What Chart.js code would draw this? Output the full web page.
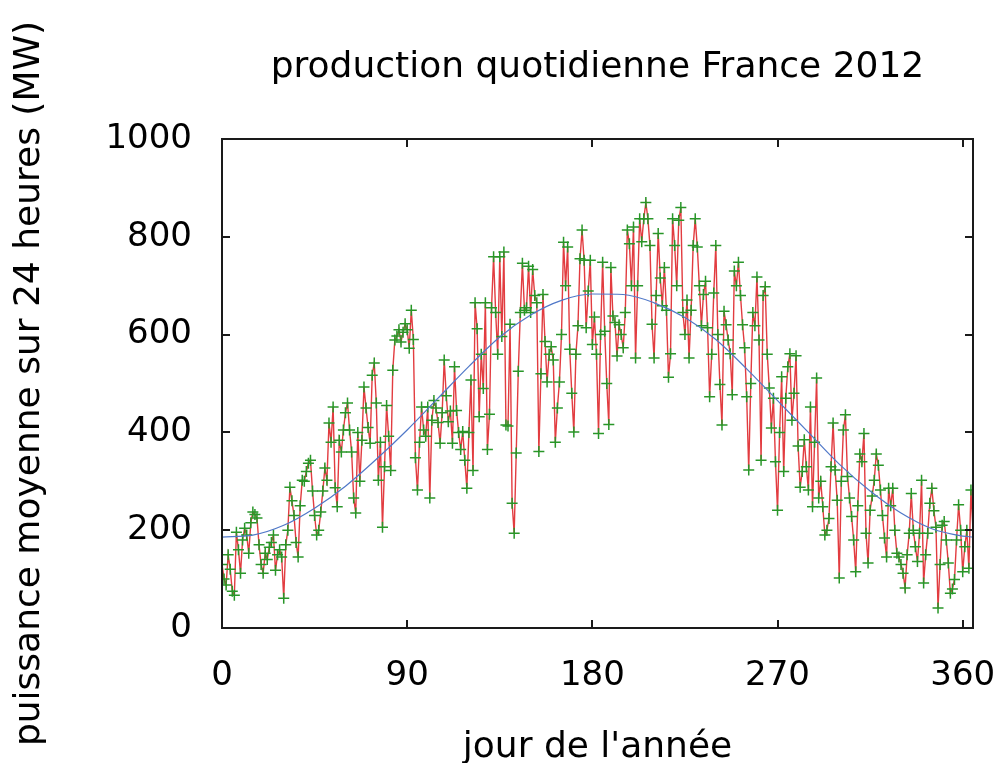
<!DOCTYPE html>
<html>
<head>
<meta charset="utf-8">
<title>production quotidienne France 2012</title>
<script src="https://cdn.jsdelivr.net/npm/chart.js@4.4.1/dist/chart.umd.min.js"></script>
<style>
  html, body { margin: 0; padding: 0; background: #fff; }
  canvas { display: block; }
</style>
</head>
<body>
<canvas id="grfc_production" width="999" height="763"></canvas>
<script>
// production quotidienne (MW), jour 0 a 365
var production = [
  130, 100, 88, 150, 120, 75, 67, 196, 160, 112,
  180, 204, 190, 153, 215, 237, 232, 225, 170, 130,
  112, 153, 140, 165, 175, 190, 118, 150, 160, 145,
  61, 170, 200, 288, 260, 230, 175, 145, 250, 302,
  300, 320, 337, 343, 280, 230, 190, 200, 237, 280,
  327, 302, 419, 380, 452, 287, 248, 384, 360, 405,
  440, 460, 405, 360, 266, 235, 400, 300, 384, 493,
  450, 410, 378, 517, 542, 460, 302, 380, 206, 330,
  455, 392, 322, 527, 589, 597, 610, 585, 605, 622,
  610, 572, 650, 590, 348, 282, 380, 452, 405, 392,
  452, 266, 425, 465, 450, 420, 378, 440, 548, 475,
  422, 444, 378, 534, 445, 400, 365, 402, 343, 286,
  400, 507, 322, 665, 612, 432, 560, 490, 665, 365,
  437, 655, 759, 645, 560, 759, 596, 769, 415, 413,
  621, 255, 194, 358, 525, 645, 746, 650, 655, 740,
  645, 733, 680, 665, 361, 520, 682, 586, 503, 560,
  575, 548, 380, 450, 503, 600, 789, 700, 779, 570,
  480, 401, 560, 618, 755, 814, 752, 614, 689, 752,
  580, 636, 560, 398, 600, 748, 607, 500, 416, 737,
  638, 625, 556, 620, 600, 573, 645, 814, 786, 700,
  820, 552, 700, 837, 790, 837, 870, 837, 782, 621,
  552, 680, 807, 716, 659, 737, 650, 513, 561, 837,
  782, 700, 834, 860, 645, 600, 671, 552, 650, 782,
  837, 779, 700, 618, 682, 709, 614, 473, 560, 685,
  782, 600, 498, 415, 648, 620, 589, 561, 477, 730,
  700, 748, 680, 620, 573, 473, 323, 500, 645, 618,
  718, 589, 343, 680, 698, 560, 491, 409, 470, 340,
  241, 400, 514, 320, 470, 534, 561, 425, 480, 557,
  372, 288, 320, 385, 330, 282, 452, 248, 380, 511,
  266, 300, 248, 190, 200, 224, 330, 419, 323, 261,
  102, 300, 405, 436, 310, 266, 228, 180, 115, 250,
  356, 340, 398, 194, 133, 241, 270, 302, 356, 333,
  282, 230, 184, 145, 286, 250, 286, 200, 153, 145,
  130, 112, 82, 150, 194, 275, 200, 166, 136, 194,
  302, 92, 150, 194, 255, 286, 240, 206, 41, 130,
  210, 218, 180, 133, 71, 80, 99, 180, 252, 200,
  115, 166, 200, 122, 282, 200
];

// courbe ajustee
var ajustJours = [0, 15, 30, 45, 60, 75, 90, 105, 120, 135, 150, 165, 180,
  195, 210, 225, 240, 255, 270, 285, 300, 315, 330, 345, 360, 365];
var ajustValeurs = [186, 190, 210, 245, 290, 345, 405, 470, 535, 595, 640, 670, 683,
  682, 665, 635, 590, 530, 465, 400, 335, 280, 235, 203, 188, 186];

var xTicks = [0, 90, 180, 270, 360];
var yTicks = [0, 200, 400, 600, 800, 1000];

var ptsProduction = production.map(function (v, i) { return { x: i, y: v }; });
var ptsAjust = ajustJours.map(function (j, i) { return { x: j, y: ajustValeurs[i] }; });

// cadre + graduations vers l'interieur (style gnuplot)
var cadre = {
  id: "cadre",
  afterDatasetsDraw: function (chart) {
    var c = chart.ctx, a = chart.chartArea;
    var sx = chart.scales.x, sy = chart.scales.y, len = 8;
    c.save();
    c.strokeStyle = "#1a1a1a";
    c.lineWidth = 2;
    c.beginPath();
    xTicks.forEach(function (v) {
      var px = Math.round(sx.getPixelForValue(v));
      c.moveTo(px, a.bottom); c.lineTo(px, a.bottom - len);
      c.moveTo(px, a.top); c.lineTo(px, a.top + len);
    });
    yTicks.forEach(function (v) {
      var py = Math.round(sy.getPixelForValue(v));
      c.moveTo(a.left, py); c.lineTo(a.left + len, py);
      c.moveTo(a.right, py); c.lineTo(a.right - len, py);
    });
    c.stroke();
    c.strokeRect(a.left, a.top, a.right - a.left, a.bottom - a.top);
    c.restore();
  }
};

var police = "DejaVu Sans";
var texteBrut = function (v) { return String(v); };

var ctx = document.getElementById("grfc_production").getContext("2d");
var myChart = new Chart(ctx, {
  type: "scatter",
  data: {
    datasets: [{
        label: "production",
        data: ptsProduction,
        showLine: true,
        borderColor: "rgb(226, 60, 64)",
        borderWidth: 1.4,
        pointRadius: 0,
        order: 3
      },
      {
        label: "points",
        data: ptsProduction,
        showLine: false,
        pointStyle: "cross",
        pointRadius: 5.5,
        pointBorderColor: "rgb(40, 150, 40)",
        pointBorderWidth: 1.5,
        order: 2
      },
      {
        label: "ajustement",
        data: ptsAjust,
        showLine: true,
        borderColor: "rgb(80, 120, 200)",
        borderWidth: 1.2,
        cubicInterpolationMode: "monotone",
        pointRadius: 0,
        order: 1
      }
    ]
  },
  options: {
    responsive: false,
    animation: false,
    layout: { padding: { right: 26 } },
    plugins: {
      legend: { display: false },
      tooltip: { enabled: false },
      title: {
        display: true,
        text: "production quotidienne France 2012",
        fullSize: false,
        color: "#000",
        font: { family: police, size: 36, weight: "normal", lineHeight: 1 },
        padding: { top: 50, bottom: 53 }
      }
    },
    scales: {
      x: {
        type: "linear",
        min: 0,
        max: 365,
        afterBuildTicks: function (s) { s.ticks = xTicks.map(function (v) { return { value: v }; }); },
        afterFit: function (s) { s.height = 135; s.paddingLeft = 0; s.paddingRight = 0; },
        grid: { display: false, drawTicks: false },
        border: { display: false },
        ticks: { color: "#000", padding: 31, maxRotation: 0, callback: texteBrut, font: { family: police, size: 34, lineHeight: 1 } },
        title: {
          display: true,
          text: "jour de l'année",
          color: "#000",
          padding: { top: 0, bottom: -3 },
          font: { family: police, size: 36, lineHeight: 1 }
        }
      },
      y: {
        min: 0,
        max: 1000,
        afterBuildTicks: function (s) { s.ticks = yTicks.map(function (v) { return { value: v }; }); },
        afterFit: function (s) { s.width = 222; s.paddingTop = 0; s.paddingBottom = 0; },
        grid: { display: false, drawTicks: false },
        border: { display: false },
        ticks: { color: "#000", padding: 30, callback: texteBrut, font: { family: police, size: 34, lineHeight: 1 } },
        title: {
          display: true,
          text: "puissance moyenne sur 24 heures (MW)",
          color: "#000",
          padding: { top: 12, bottom: 0 },
          font: { family: police, size: 36, lineHeight: 1 }
        }
      }
    }
  },
  plugins: [cadre]
});
</script>
</body>
</html>
